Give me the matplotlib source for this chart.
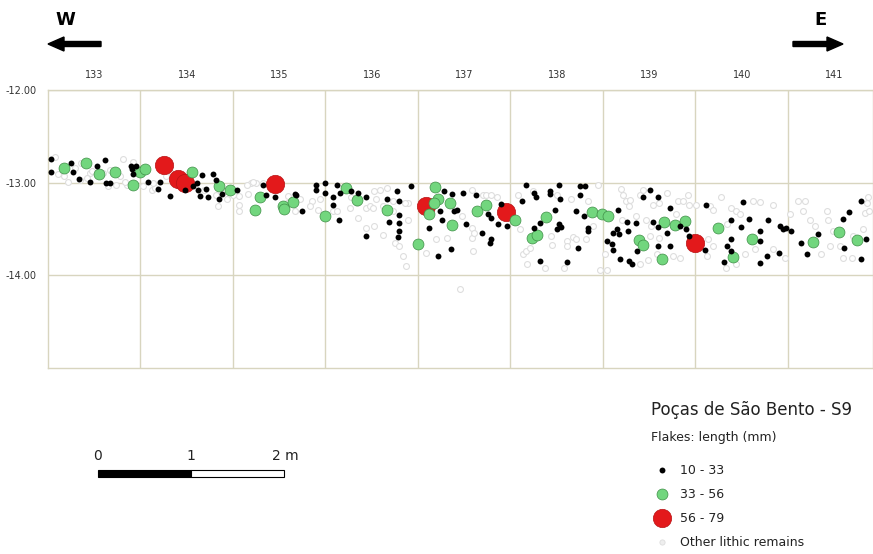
import matplotlib
matplotlib.use("Agg")
import matplotlib.pyplot as plt
from matplotlib.ticker import FixedLocator
from matplotlib.patches import Rectangle, FancyArrow

# square labels (top) and depth labels (left)
squares = [133, 134, 135, 136, 137, 138, 139, 140, 141]
depths = [-12.0, -13.0, -14.0]

# flakes 10 - 33 mm
small_x = [132.53, 132.53, 132.75, 132.77, 132.83, 132.95, 133.03, 133.12, 133.13, 133.17,
           133.40, 133.41, 133.42, 133.45, 133.58, 133.69, 133.71, 133.82, 133.98, 134.07,
           134.11, 134.12, 134.14, 134.16, 134.21, 134.23, 134.28, 134.32, 134.35, 134.38,
           134.54, 134.83, 134.86, 134.95, 135.17, 135.18, 135.25, 135.40, 135.40, 135.49,
           135.50, 135.58, 135.58, 135.63, 135.65, 135.66, 135.78, 135.85, 135.94, 135.94,
           136.16, 136.19, 136.27, 136.29, 136.30, 136.30, 136.30, 136.28, 136.42,
           136.78, 136.87, 136.99, 137.13, 136.74, 136.76, 136.62, 136.72, 136.86, 136.89,
           136.92, 137.02, 137.19, 137.29, 137.28, 137.26, 137.29, 137.37, 137.46, 137.40,
           137.63, 137.67, 137.76, 137.78, 137.93, 137.93, 138.03, 138.04, 137.98, 137.82,
           137.75, 137.82, 138.00, 138.03, 138.05, 138.11, 138.21, 138.23, 138.25, 138.31,
           138.25, 138.30, 138.34, 138.34, 138.66, 138.54, 138.60, 138.61, 138.61, 138.65,
           138.67, 138.76, 138.77, 138.68, 138.78, 138.81, 138.86, 138.87, 138.93, 139.01,
           139.04, 139.09, 139.10, 139.22, 139.09, 139.19, 139.22, 139.33, 139.40, 139.43,
           139.61, 139.60, 139.81, 139.84, 139.89, 139.88, 139.89, 139.99, 140.01, 140.08,
           140.20, 140.20, 140.29, 140.27, 140.20, 140.40, 140.41, 140.45, 140.48, 140.53,
           140.64, 140.71, 140.83, 141.10, 141.16, 141.29, 141.34, 141.29, 141.11]
small_y = [-12.75, -12.88, -12.79, -12.88, -12.96, -12.99, -12.82, -12.76, -13.00, -13.00,
           -12.82, -12.85, -12.91, -12.82, -12.99, -13.07, -12.99, -13.14, -13.08, -13.04,
           -13.00, -13.08, -13.14, -12.92, -13.07, -13.15, -12.91, -12.97, -13.18, -13.12,
           -13.08, -13.02, -13.13, -13.15, -13.12, -13.13, -13.31, -13.02, -13.08, -13.00,
           -13.11, -13.15, -13.24, -13.02, -13.40, -13.11, -13.09, -13.11, -13.15, -13.58,
           -13.18, -13.42, -13.09, -13.20, -13.35, -13.44, -13.52, -13.59, -13.04,
           -13.09, -13.12, -13.11, -13.13, -13.31, -13.40, -13.49, -13.79, -13.72, -13.31,
           -13.30, -13.45, -13.54, -13.61, -13.65, -13.34, -13.38, -13.45, -13.47, -13.23,
           -13.20, -13.02, -13.11, -13.16, -13.09, -13.12, -13.03, -13.18, -13.29, -13.43,
           -13.49, -13.85, -13.50, -13.45, -13.48, -13.86, -13.31, -13.70, -13.04, -13.04,
           -13.13, -13.36, -13.49, -13.52, -13.29, -13.63, -13.66, -13.73, -13.54, -13.50,
           -13.55, -13.42, -13.52, -13.82, -13.84, -13.88, -13.43, -13.74, -13.16, -13.08,
           -13.42, -13.48, -13.16, -13.27, -13.68, -13.54, -13.68, -13.47, -13.50, -13.58,
           -13.24, -13.73, -13.86, -13.68, -13.61, -13.40, -13.74, -13.48, -13.21, -13.39,
           -13.52, -13.63, -13.40, -13.79, -13.87, -13.76, -13.47, -13.50, -13.49, -13.52,
           -13.65, -13.77, -13.55, -13.39, -13.32, -13.20, -13.61, -13.82, -13.70]

# flakes 33 - 56 mm
mid_x = [132.67, 132.91, 133.05, 133.22, 133.42, 133.49, 133.55, 134.06, 134.35, 134.47,
         134.79, 134.74, 135.04, 135.05, 135.15, 135.49, 135.72, 135.84, 136.17, 136.50,
         136.68, 136.72, 136.67, 136.62, 136.85, 136.87, 137.14, 137.24, 137.55, 137.73,
         137.79, 137.88, 138.38, 138.49, 138.55, 138.89, 138.93, 139.16, 139.28, 139.39,
         139.14, 139.74, 139.91, 140.11, 140.77, 141.05, 141.25]
mid_y = [-12.84, -12.79, -12.91, -12.89, -13.02, -12.88, -12.85, -12.88, -13.04, -13.08,
         -13.15, -13.30, -13.25, -13.28, -13.21, -13.36, -13.06, -13.19, -13.30, -13.66,
         -13.05, -13.18, -13.22, -13.34, -13.22, -13.46, -13.31, -13.24, -13.40, -13.60,
         -13.56, -13.37, -13.32, -13.34, -13.36, -13.62, -13.67, -13.42, -13.46, -13.41,
         -13.82, -13.49, -13.80, -13.61, -13.64, -13.53, -13.62]

# flakes 56 - 79 mm
big_x = [133.75, 133.91, 133.98, 134.95, 136.59, 137.45, 139.50]
big_y = [-12.81, -12.96, -13.00, -13.01, -13.25, -13.32, -13.65]

# other lithic remains
other_x = [132.58, 132.61, 132.72, 132.86, 132.95, 133.03, 133.15, 133.24, 133.31, 133.35,
           133.42, 133.53, 133.62, 133.66, 133.82, 134.34, 134.43, 134.56, 134.56, 134.66,
           134.70, 134.75, 134.83, 135.09, 135.17, 135.35, 135.44, 135.42, 135.58, 135.78,
           135.85, 135.94, 135.98, 136.01, 136.03, 136.09, 136.16, 136.23, 136.25, 136.30,
           136.34, 136.37, 135.94, 136.02, 136.12, 136.23, 136.39, 132.67, 132.79, 132.85,
           132.92, 132.98, 133.10, 133.17, 133.28, 133.33, 133.64, 133.78, 134.19, 134.32,
           134.50, 134.57, 134.65, 134.72, 135.08, 135.22, 135.33, 135.62, 135.76, 135.84,
           136.05, 136.12, 136.36, 136.39,
           136.56, 136.59, 136.69, 136.81, 136.95, 136.98, 137.08, 137.08, 137.10, 137.20,
           137.24, 137.29, 137.36, 137.08, 137.11, 137.58, 137.60, 137.64, 137.67, 137.71,
           137.68, 137.74, 137.87, 137.94, 137.95, 138.00, 138.08, 138.11, 138.11, 138.16,
           138.18, 138.21, 138.32, 138.34, 138.39, 138.45, 138.47, 138.54, 138.52, 138.70,
           138.72, 138.75, 138.79, 138.71, 138.78, 138.86, 138.90, 138.93, 138.97, 139.02,
           139.04, 139.11, 139.19, 139.01, 139.29, 139.31, 139.37, 139.42, 139.43, 139.51,
           139.26, 139.33, 139.08, 138.99, 138.90, 139.11, 139.66, 139.69, 139.78, 139.84,
           139.89, 139.94, 139.98, 140.12, 140.20, 140.34, 140.52, 140.61, 140.68, 140.66,
           140.74, 140.79, 140.92, 140.93, 140.99, 140.95, 141.06, 141.20, 141.31, 141.33,
           141.38, 141.35, 141.37, 141.10, 141.19, 140.47, 140.34, 140.14, 140.04, 139.94,
           139.83, 139.69, 139.62, 139.64, 140.86]
other_y = [-12.72, -12.91, -12.99, -12.79, -12.90, -12.90, -13.04, -13.03, -12.74, -13.03,
           -12.78, -13.04, -13.08, -13.06, -12.88, -13.25, -13.18, -13.24, -13.31, -13.12,
           -13.00, -13.00, -13.00, -13.14, -13.31, -13.20, -13.18, -13.30, -13.31, -13.16,
           -13.38, -13.27, -13.25, -13.27, -13.09, -13.08, -13.06, -13.31, -13.65, -13.68,
           -13.79, -13.90, -13.49, -13.47, -13.56, -13.20, -13.22, -12.93, -12.84, -12.97,
           -12.95, -12.87, -12.90, -12.86, -12.93, -12.99, -13.00, -12.93, -13.08, -13.13,
           -13.13, -13.14, -13.02, -12.99, -13.22, -13.18, -13.25, -13.31, -13.27, -13.22,
           -13.18, -13.25, -13.22, -13.40,
           -13.20, -13.76, -13.61, -13.60, -14.15, -13.36, -13.08, -13.60, -13.74, -13.13,
           -13.13, -13.13, -13.15, -13.49, -13.54, -13.13, -13.50, -13.77, -13.74, -13.70,
           -13.88, -13.09, -13.92, -13.58, -13.67, -13.13, -13.92, -13.63, -13.68, -13.18,
           -13.59, -13.61, -13.61, -13.20, -13.47, -13.03, -13.94, -13.94, -13.77, -13.07,
           -13.13, -13.20, -13.19, -13.40, -13.25, -13.36, -13.13, -13.08, -13.40, -13.47,
           -13.24, -13.22, -13.11, -13.58, -13.34, -13.20, -13.20, -13.13, -13.24, -13.24,
           -13.79, -13.81, -13.77, -13.83, -13.88, -13.60, -13.25, -13.29, -13.16, -13.45,
           -13.27, -13.31, -13.34, -13.20, -13.21, -13.24, -13.34, -13.20, -13.20, -13.31,
           -13.40, -13.47, -13.31, -13.40, -13.52, -13.68, -13.68, -13.58, -13.50, -13.33,
           -13.31, -13.22, -13.15, -13.81, -13.81, -13.81, -13.72, -13.72, -13.77, -13.88,
           -13.92, -13.68, -13.79, -13.61, -13.77]

legend_labels = ["10 - 33", "33 - 56", "56 - 79", "Other lithic remains"]

grid_col = "#d8d5bf"
green = "#72d67e"
red = "#e3191b"

fig = plt.figure(figsize=(8.73, 5.54), dpi=100)
ax = fig.add_axes([48 / 873, 186 / 554, 825 / 873, 278 / 554])
ax.set_xlim(132.5, 141.42)
ax.set_ylim(-15.0, -12.0)

ax.scatter(other_x, other_y, s=18, facecolor="white", edgecolor="#dedede", linewidth=0.8, zorder=2)
ax.scatter(big_x, big_y, s=175, color=red, edgecolor="#b81416", linewidth=0.5, zorder=3)
ax.scatter(mid_x, mid_y, s=62, color=green, edgecolor="#3f8f47", linewidth=0.5, zorder=4)
ax.scatter(small_x, small_y, s=18, color="black", linewidth=0, zorder=5)

ax.xaxis.set_major_locator(FixedLocator(squares))
ax.xaxis.set_minor_locator(FixedLocator([s + 0.5 for s in squares[:-1]]))
ax.set_yticks(depths)
ax.set_yticklabels(["%.2f" % d for d in depths])
ax.xaxis.tick_top()
ax.tick_params(axis="x", which="both", length=0, labelsize=7, colors="#333333", pad=7)
ax.tick_params(axis="y", length=0, labelsize=7, colors="#333333", pad=8)
ax.grid(True, axis="x", which="minor", color=grid_col, linewidth=1)
ax.grid(True, axis="y", which="major", color=grid_col, linewidth=1)
ax.grid(False, axis="x", which="major")
ax.set_axisbelow(True)
for sp in ax.spines.values():
    sp.set_color(grid_col)
    sp.set_linewidth(1)

# direction arrows
fig.text(65 / 873, 1 - 20 / 554, "W", fontsize=13, fontweight="bold", ha="center", va="center")
fig.text(820 / 873, 1 - 20 / 554, "E", fontsize=13, fontweight="bold", ha="center", va="center")
fig.patches.append(FancyArrow(101 / 873, 1 - 44 / 554, -53 / 873, 0, width=5 / 554,
                              head_width=14 / 554, head_length=16 / 873,
                              transform=fig.transFigure, color="black", length_includes_head=True))
fig.patches.append(FancyArrow(793 / 873, 1 - 44 / 554, 50 / 873, 0, width=5 / 554,
                              head_width=14 / 554, head_length=16 / 873,
                              transform=fig.transFigure, color="black", length_includes_head=True))

# scale bar
fig.patches.append(Rectangle((98 / 873, 1 - 477 / 554), 93 / 873, 7 / 554, transform=fig.transFigure,
                             facecolor="black", edgecolor="black", linewidth=0.8))
fig.patches.append(Rectangle((191 / 873, 1 - 477 / 554), 93 / 873, 7 / 554, transform=fig.transFigure,
                             facecolor="white", edgecolor="black", linewidth=0.8))
for px, t in [(98, "0"), (191, "1"), (285, "2 m")]:
    fig.text(px / 873, 1 - 456 / 554, t, fontsize=10, ha="center", va="center", color="#222222")

# legend
fig.text(651 / 873, 1 - 410 / 554, "Poças de São Bento - S9", fontsize=12, va="center", color="#222222")
fig.text(651 / 873, 1 - 437 / 554, "Flakes: length (mm)", fontsize=9, va="center", color="#222222")
lax = fig.add_axes([0, 0, 1, 1], facecolor="none")
lax.set_xlim(0, 873)
lax.set_ylim(554, 0)
lax.axis("off")
ly = [470, 494, 518, 542]
lax.scatter([662], [ly[0]], s=18, color="black", linewidth=0)
lax.scatter([662], [ly[1]], s=62, color=green, edgecolor="#3f8f47", linewidth=0.5)
lax.scatter([662], [ly[2]], s=175, color=red, edgecolor="#b81416", linewidth=0.5)
lax.scatter([662], [ly[3]], s=14, facecolor="#eeeeee", edgecolor="#dddddd", linewidth=0.6)
for yy, lab in zip(ly, legend_labels):
    lax.text(680, yy, lab, fontsize=9, va="center", color="#222222")

plt.savefig("out.png", dpi=100)
